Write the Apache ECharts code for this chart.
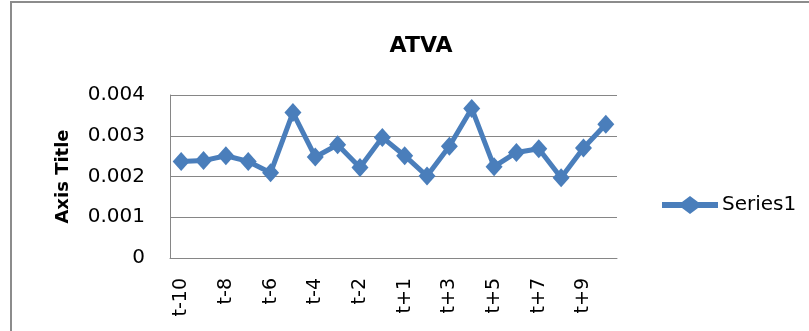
<!DOCTYPE html>
<html>
<head>
<meta charset="utf-8">
<script src="https://cdn.jsdelivr.net/npm/echarts@6/dist/echarts.min.js"></script>
<style>
  html, body { margin: 0; padding: 0; background: #fff; }
  #chart { width: 809px; height: 331px; }
</style>
</head>
<body>
<div id="chart"></div>
<script>
// categories t-10 .. t-1, t+1 .. t+10 (no t0)
var categories = ['t-10', 't-9', 't-8', 't-7', 't-6', 't-5', 't-4', 't-3', 't-2', 't-1',
  't+1', 't+2', 't+3', 't+4', 't+5', 't+6', 't+7', 't+8', 't+9', 't+10']
var series1 = [0.00237, 0.00239, 0.00251, 0.00237, 0.00209, 0.00357, 0.00248, 0.00278, 0.00222, 0.00296,
  0.00251, 0.00201, 0.00274, 0.00367, 0.00224, 0.00259, 0.00268, 0.00197, 0.00270, 0.00328]
var yTicks = [0, 0.001, 0.002, 0.003, 0.004]

var myChart = echarts.init(document.getElementById('chart'))
var blue = '#4a7ebb'
var font = 'DejaVu Sans'
var option = {
  animation: false,
  title: {
    text: 'ATVA',
    left: 416,
    top: 30,
    textAlign: 'center',
    textStyle: { fontFamily: font, fontSize: 22, fontWeight: 'bold', color: '#000' }
  },
  graphic: [{
    type: 'rect',
    shape: { x: 11, y: 2, width: 820, height: 360 },
    style: { fill: 'none', stroke: '#8c8c8c', lineWidth: 2 }
  }],
  legend: {
    left: 657,
    top: 190,
    itemWidth: 56,
    itemHeight: 18,
    itemGap: 4,
    textStyle: { fontFamily: font, fontSize: 20, color: '#000', padding: [0, 0, 0, -1] },
    data: [{ name: 'Series1', icon: 'path://M0,6L20,6L28,0L36,6L56,6L56,12L36,12L28,18L20,12L0,12Z' }]
  },
  grid: { left: 170, top: 95, right: 192, bottom: 73 },
  xAxis: {
    type: 'category',
    data: categories,
    axisLine: { lineStyle: { color: '#868686' } },
    axisTick: { show: false },
    axisLabel: {
      interval: 1,
      rotate: 90,
      margin: 20,
      fontFamily: font,
      fontSize: 19,
      color: '#000'
    }
  },
  yAxis: {
    type: 'value',
    min: yTicks[0],
    max: yTicks[yTicks.length - 1],
    interval: 0.001,
    name: 'Axis Title',
    nameLocation: 'middle',
    nameGap: 98,
    nameTextStyle: { fontFamily: font, fontSize: 18, fontWeight: 'bold', color: '#000' },
    axisLine: { show: true, lineStyle: { color: '#868686' } },
    axisTick: { show: false },
    splitLine: { lineStyle: { color: '#868686', width: 1 } },
    axisLabel: {
      margin: 25,
      fontFamily: font,
      fontSize: 20,
      color: '#000',
      formatter: function (v) { return v === 0 ? '0' : v.toFixed(3) }
    }
  },
  series: [{
    name: 'Series1',
    type: 'line',
    data: series1,
    symbol: 'diamond',
    symbolSize: [17, 19],
    showAllSymbol: true,
    lineStyle: { color: blue, width: 5 },
    itemStyle: { color: blue }
  }]
}
myChart.setOption(option, true)
</script>
</body>
</html>
